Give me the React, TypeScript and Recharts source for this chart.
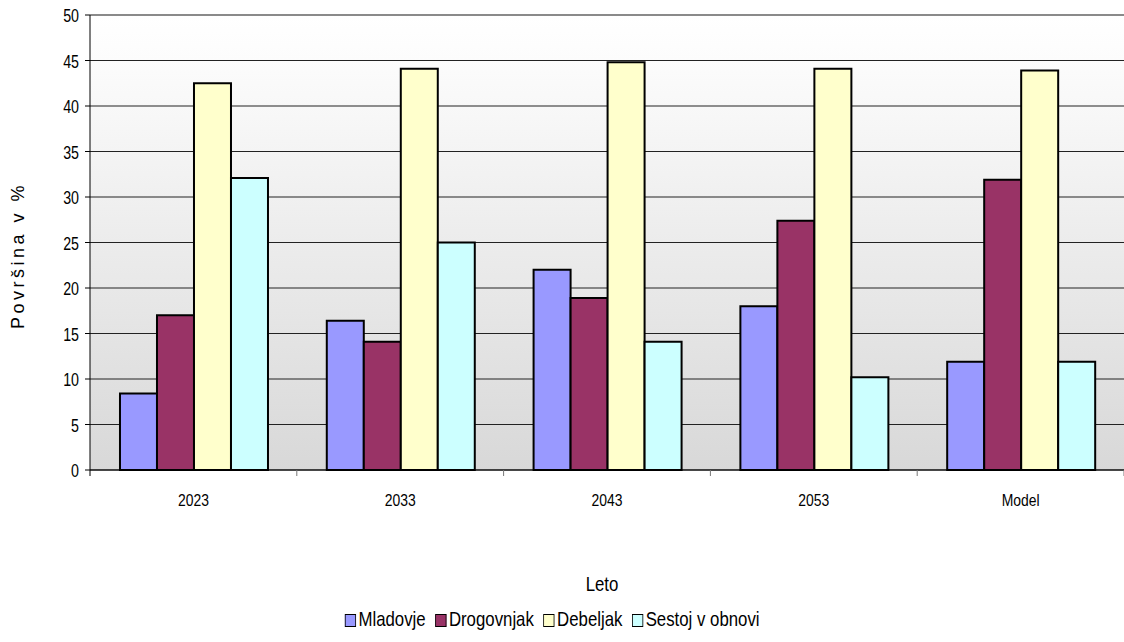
import React from 'react';
import { BarChart, Bar, XAxis, YAxis, CartesianGrid, Legend, ReferenceLine } from 'recharts';

const years = ['2023', '2033', '2043', '2053', 'Model'];
const mladovje = [8.4, 16.4, 22.0, 18.0, 11.9];
const drogovnjak = [17.0, 14.1, 18.9, 27.4, 31.9];
const debeljak = [42.5, 44.1, 44.8, 44.1, 43.9];
const sestoj = [32.1, 25.0, 14.1, 10.2, 11.9];
const yTicks = [0, 5, 10, 15, 20, 25, 30, 35, 40, 45, 50];

const series = [
    { key: 'Mladovje', values: mladovje, color: '#9999ff' },
    { key: 'Drogovnjak', values: drogovnjak, color: '#993366' },
    { key: 'Debeljak', values: debeljak, color: '#ffffcc' },
    { key: 'Sestoj v obnovi', values: sestoj, color: '#ccffff' },
];

const chartData = years.map((year, i) => {
    const row: any = { year };
    series.forEach(s => { row[s.key] = s.values[i]; });
    return row;
});

const W = 1124;
const H = 642;
const BAND = (W - 90) / years.length;
const NARROW = 0.8; // squeeze Arial-like glyphs into a narrow face

// x ticks sit on the category boundaries, not the centres
function XTick(props: any) {
    const { x, y, payload, index } = props;
    return (
        <g>
            {index === 0 && <line x1={x - BAND / 2} y1={y - 8} x2={x - BAND / 2} y2={y - 2} stroke="#000" />}
            <line x1={x + BAND / 2} y1={y - 8} x2={x + BAND / 2} y2={y - 2} stroke="#777" />
            <text transform={`translate(${x},${y + 28}) scale(0.82,1)`} textAnchor="middle" fontSize={17} fill="#000">{payload.value}</text>
        </g>
    );
}

function YTick(props: any) {
    const { x, y, payload } = props;
    return (
        <text transform={`translate(${x - 1},${y + 7}) scale(0.75,1)`} textAnchor="end" fontSize={19} fill="#000">{payload.value}</text>
    );
}

function AxisTitle(props: any) {
    const { viewBox } = props;
    const cx = viewBox.x + viewBox.width / 2;
    return (
        <text transform={`translate(${cx - 5},${viewBox.y + 121}) scale(${NARROW},1)`} textAnchor="middle" fontSize={21} fill="#000">Leto</text>
    );
}

function LegendBox() {
    return (
        <div style={{ height: 30, display: 'flex', justifyContent: 'center', alignItems: 'flex-start' }}>
            <div style={{ display: 'flex', alignItems: 'center', gap: 12, fontSize: 21, lineHeight: '22px', color: '#000', transform: `scaleX(${NARROW})`, whiteSpace: 'nowrap', marginLeft: -20, marginTop: -4 }}>
                {series.map(s => (
                    <span key={s.key} style={{ display: 'flex', alignItems: 'center' }}>
                        <span style={{ width: 12, height: 11, background: s.color, border: '1.5px solid #000', marginRight: 3, marginTop: 2 }} />
                        {s.key}
                    </span>
                ))}
            </div>
        </div>
    );
}

export default function App() {
    return (
        <div style={{ width: W, height: H, background: '#fff', fontFamily: '"Liberation Sans", Arial, sans-serif' }}>
            <style>{'body{margin:0}'}</style>
            <BarChart width={W} height={H} data={chartData} margin={{ top: 15, right: 0, bottom: 0, left: 0 }} barCategoryGap="14.5%" barGap={0}>
                <defs>
                    <linearGradient id="plotBg" x1="0" y1="0" x2="0" y2="1">
                        <stop offset="0%" stopColor="#ffffff" />
                        <stop offset="10%" stopColor="#fcfcfc" />
                        <stop offset="100%" stopColor="#d8d8d8" />
                    </linearGradient>
                </defs>
                <CartesianGrid vertical={false} stroke="#222" fill="url(#plotBg)" />
                <ReferenceLine y={50} stroke="#8a8a8a" strokeWidth={2} />
                <XAxis dataKey="year" height={142} stroke="#000" tickLine={false} tick={<XTick />} interval={0}
                    label={<AxisTitle />} />
                <YAxis width={90} domain={[0, 50]} ticks={yTicks} stroke="#000" tickSize={5} tickMargin={5}
                    tick={<YTick />}
                    label={{ value: 'Površina v %', angle: -90, position: 'center', dx: -27, dy: 13, fontSize: 18, fill: '#000', letterSpacing: 3.5 }} />
                <Legend verticalAlign="bottom" content={<LegendBox />} />
                {series.map(s => (
                    <Bar key={s.key} dataKey={s.key} fill={s.color} stroke="#000" strokeWidth={2} isAnimationActive={false} />
                ))}
            </BarChart>
        </div>
    );
}
